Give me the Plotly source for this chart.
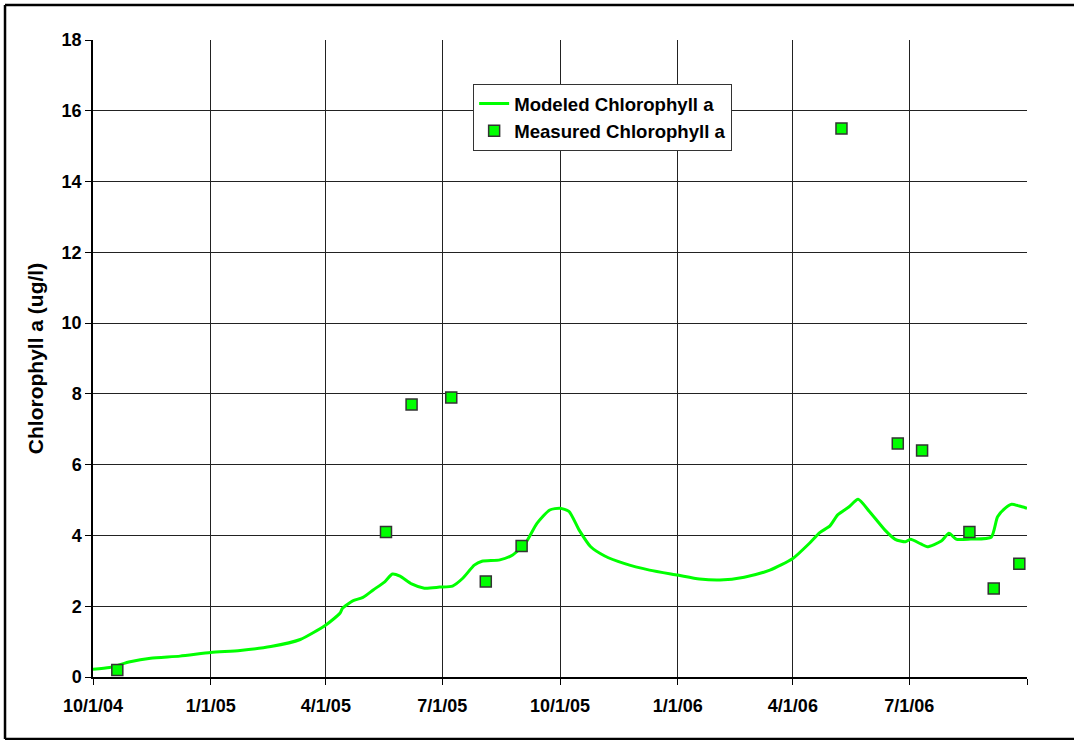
import plotly.graph_objects as go

# Modeled chlorophyll a (ug/l)
model_dates = [
    "2004-10-01", "2004-10-14", "2004-10-30", "2004-11-15", "2004-12-08",
    "2005-01-01", "2005-01-24", "2005-02-17", "2005-03-12", "2005-04-01",
    "2005-04-12", "2005-04-14", "2005-04-22", "2005-04-30", "2005-05-08",
    "2005-05-17", "2005-05-23", "2005-05-29", "2005-06-07", "2005-06-17",
    "2005-06-29", "2005-07-09", "2005-07-17", "2005-07-26", "2005-08-01",
    "2005-08-15", "2005-08-25", "2005-09-04", "2005-09-13", "2005-09-23",
    "2005-10-01", "2005-10-08", "2005-10-16", "2005-10-25", "2005-11-05",
    "2005-11-20", "2005-12-10", "2006-01-01", "2006-01-18", "2006-02-03",
    "2006-02-22", "2006-03-14", "2006-04-01", "2006-04-14", "2006-04-22",
    "2006-04-30", "2006-05-06", "2006-05-15", "2006-05-22", "2006-05-31",
    "2006-06-12", "2006-06-20", "2006-06-28", "2006-07-02", "2006-07-10",
    "2006-07-15", "2006-07-26", "2006-08-01", "2006-08-07", "2006-08-18",
    "2006-09-03", "2006-09-08", "2006-09-14", "2006-09-19", "2006-09-25",
    "2006-10-01",
]
model_values = [
    0.22, 0.27, 0.43, 0.53, 0.59,
    0.69, 0.75, 0.86, 1.06, 1.47,
    1.80, 1.94, 2.15, 2.25, 2.46,
    2.69, 2.91, 2.85, 2.63, 2.51,
    2.54, 2.57, 2.79, 3.16, 3.27,
    3.31, 3.45, 3.78, 4.34, 4.72,
    4.77, 4.68, 4.15, 3.68, 3.42,
    3.21, 3.02, 2.88, 2.77, 2.74,
    2.82, 3.02, 3.35, 3.78, 4.08,
    4.27, 4.58, 4.81, 5.02, 4.67,
    4.15, 3.89, 3.82, 3.89, 3.76,
    3.68, 3.84, 4.06, 3.89, 3.90,
    3.95, 4.53, 4.77, 4.88, 4.83,
    4.77,
]

# Measured chlorophyll a (ug/l)
measured_dates = [
    "2004-10-20", "2005-05-18", "2005-06-07", "2005-07-08", "2005-08-04",
    "2005-09-01", "2006-05-09", "2006-06-22", "2006-07-11", "2006-08-17",
    "2006-09-05", "2006-09-25",
]
measured_values = [0.2, 4.1, 7.7, 7.9, 2.7, 3.7, 15.5, 6.6, 6.4, 4.1, 2.5, 3.2]

tick_dates = ["2004-10-01", "2005-01-01", "2005-04-01", "2005-07-01", "2005-10-01",
              "2006-01-01", "2006-04-01", "2006-07-01", "2006-10-01"]
tick_labels = ["10/1/04", "1/1/05", "4/1/05", "7/1/05", "10/1/05",
               "1/1/06", "4/1/06", "7/1/06", ""]

FONT = "Liberation Sans, Arial, sans-serif"
GREEN = "#00FF00"

fig = go.Figure()
fig.add_trace(go.Scatter(
    x=model_dates, y=model_values, mode="lines",
    name="Modeled Chlorophyll a",
    line=dict(color=GREEN, width=3, shape="spline", smoothing=0.6),
))
fig.add_trace(go.Scatter(
    x=measured_dates, y=measured_values, mode="markers",
    name="Measured Chlorophyll a",
    marker=dict(symbol="square", size=11, color=GREEN,
                line=dict(color="#333333", width=1.5)),
))

border = dict(color="black", width=2.5)
fig.update_layout(
    width=1090, height=740,
    margin=dict(l=93, r=63, t=40, b=63),
    paper_bgcolor="white", plot_bgcolor="white",
    font=dict(family=FONT, color="black", size=18),
    showlegend=True,
    legend=dict(
        x=0.407, y=0.931, xanchor="left", yanchor="top",
        bgcolor="white", bordercolor="#333333", borderwidth=1,
        font=dict(family=FONT, size=18.6, weight="bold", color="black"),
        tracegroupgap=0, itemwidth=30,
    ),
    xaxis=dict(
        type="date",
        range=["2004-10-01", "2006-10-01"],
        tickmode="array", tickvals=tick_dates, ticktext=tick_labels,
        showgrid=True, gridcolor="#222222", gridwidth=1,
        showline=True, linecolor="black", linewidth=1.5,
        ticks="outside", ticklen=6, tickcolor="black", tickwidth=1,
        tickfont=dict(family=FONT, size=18, weight="bold"),
        ticklabelstandoff=6,
        zeroline=False,
    ),
    yaxis=dict(
        range=[0, 18], dtick=2, tick0=0,
        showgrid=True, gridcolor="#222222", gridwidth=1,
        showline=True, linecolor="black", linewidth=1.5,
        ticks="outside", ticklen=6, tickcolor="black", tickwidth=1,
        tickfont=dict(family=FONT, size=18, weight="bold"),
        title=dict(text="Chlorophyll a (ug/l)",
                   font=dict(family=FONT, size=21, weight="bold"),
                   standoff=12),
        zeroline=False,
    ),
    shapes=[
        dict(type="line", xref="paper", yref="paper",
             x0=-0.0942, x1=-0.0942, y0=-0.0973, y1=1.055, line=border, layer="above"),
        dict(type="line", xref="paper", yref="paper",
             x0=-0.0942, x1=1.2, y0=1.055, y1=1.055, line=border, layer="above"),
        dict(type="line", xref="paper", yref="paper",
             x0=-0.0942, x1=1.2, y0=-0.0973, y1=-0.0973, line=border, layer="above"),
    ],
)

fig.write_html(
    "out.html", config={"displayModeBar": False},
    post_script="document.body.style.margin='0';document.body.style.overflow='hidden';",
)
